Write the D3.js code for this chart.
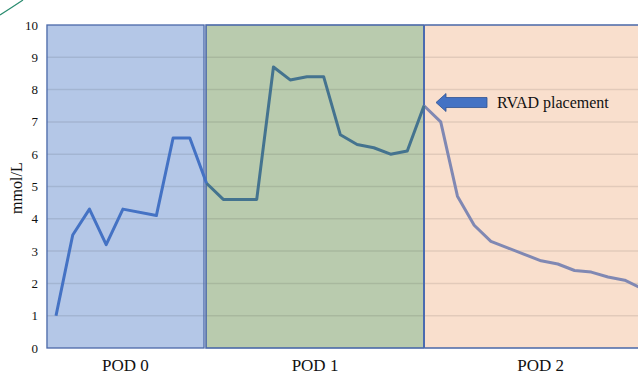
<!DOCTYPE html>
<html><head><meta charset="utf-8">
<script src="https://cdn.jsdelivr.net/npm/d3@7"></script>
<style>body{margin:0;background:#fff}svg{display:block}text{font-family:"Liberation Serif","Times New Roman",serif;fill:#111}</style>
</head><body><svg id="c" width="638" height="374"></svg>
<script>
// ---- data ----
const yTicks = [0,1,2,3,4,5,6,7,8,9,10];
const panelLabels = ["POD 0","POD 1","POD 2"];
const panelStart = [-0.54, 8.97, 22.05];
const panelEnd = [8.85, 22.0, 35.9];
const panelFill = ["#b4c7e7","#b9cbae","#f9dfcd"];
const blueX = [0,1,2,3,4,6,7,8,9];
const blueY = [1.0,3.5,4.3,3.2,4.3,4.1,6.5,6.5,5.1];
const greenX = [9,10,12,13,14,15,16,17,18,19,20,21,22];
const greenY = [5.1,4.6,4.6,8.7,8.3,8.4,8.4,6.6,6.3,6.2,6.0,6.1,7.5];
const orangeX = [22,23,24,25,26,27,28,29,30,31,32,33,34,35];
const orangeY = [7.5,7.0,4.7,3.8,3.3,3.1,2.9,2.7,2.6,2.4,2.35,2.2,2.1,1.85];
const annotation = "RVAD placement";
const yTitle = "mmol/L";

const svg = d3.select("#c");
const x = d3.scaleLinear().domain([0,22]).range([56,424]);
const y = d3.scaleLinear().domain([0,10]).range([348,25]);

// decorative arc top-left
svg.append("path").attr("d","M0,15 Q11,8 23,0").attr("fill","none").attr("stroke","#2a8c6f").attr("stroke-width",1.2);

// panels
panelLabels.forEach((lab,i)=>{
  svg.append("rect").attr("x",x(panelStart[i])).attr("y",y(10))
    .attr("width",x(panelEnd[i])-x(panelStart[i])).attr("height",y(0)-y(10))
    .attr("fill",panelFill[i]);
});
// gridlines
const grid = svg.append("g");
yTicks.filter(t=>t>0&&t<10).forEach(t=>{
  grid.append("line").attr("x1",x(panelStart[0])).attr("x2",638)
    .attr("y1",y(t)).attr("y2",y(t)).attr("stroke","#000").attr("stroke-opacity",0.09).attr("stroke-width",1.5);
});
// panel borders
panelLabels.forEach((lab,i)=>{
  if(i<2){
    svg.append("rect").attr("x",x(panelStart[i])).attr("y",y(10))
      .attr("width",x(panelEnd[i])-x(panelStart[i])).attr("height",y(0)-y(10))
      .attr("fill","none").attr("stroke","#4a68a8").attr("stroke-width",i==1?1.6:1.3);
  } else {
    svg.append("path").attr("d",`M${x(panelStart[i])},${y(10)}H640M${x(panelStart[i])},${y(0)}H640`)
      .attr("stroke","#4a68a8").attr("stroke-width",1.3);
  }
  svg.append("text").attr("x",(x(panelStart[i])+Math.min(x(panelEnd[i]),658))/2).attr("y",371)
    .attr("text-anchor","middle").attr("font-size",17).text(lab);
});
svg.append("line").attr("x1",x(22)).attr("x2",x(22)).attr("y1",y(10)).attr("y2",y(0)).attr("stroke","#4a6bb0").attr("stroke-width",2);

// y ticks
yTicks.forEach(t=>{
  svg.append("text").attr("x",38).attr("y",y(t)).attr("dy","0.35em").attr("text-anchor","end")
    .attr("font-size",13).text(t);
});
svg.append("text").attr("transform",`translate(22,${y(4.95)}) rotate(-90)`).attr("text-anchor","middle")
  .attr("font-size",16).text(yTitle);

// lines
const line = d3.line().x(d=>x(d[0])).y(d=>y(d[1]));
function series(xs,ys,color){
  svg.append("path").datum(xs.map((v,i)=>[v,ys[i]])).attr("d",line)
    .attr("fill","none").attr("stroke",color).attr("stroke-width",3).attr("stroke-linejoin","round");
}
series(orangeX,orangeY,"#8088b3");
series(greenX,greenY,"#44738f");
series(blueX,blueY,"#4472c4");

// annotation arrow
const ax = x(22)+12, ay = y(7.6);
svg.append("path").attr("d",`M${ax},${ay} L${ax+10},${ay-9} L${ax+10},${ay-5} L${ax+51},${ay-5} L${ax+51},${ay+5} L${ax+10},${ay+5} L${ax+10},${ay+9} Z`)
  .attr("fill","#4472c4").attr("stroke","#2f528f").attr("stroke-width",0.8);
svg.append("text").attr("x",ax+61).attr("y",ay+5).attr("font-size",16).text(annotation);
</script></body></html>
